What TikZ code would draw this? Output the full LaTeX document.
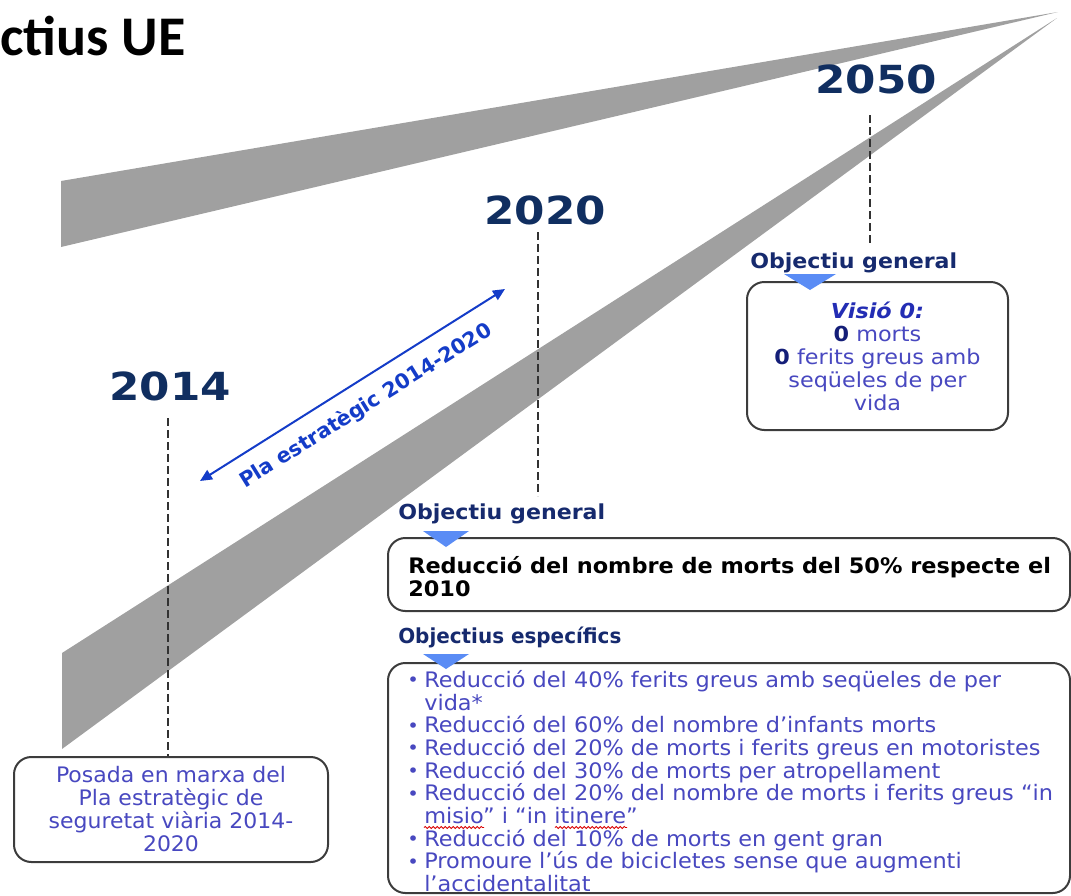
\documentclass[tikz,border=0pt]{standalone}
\usepackage{fontspec}
\setmainfont{DejaVu Sans}
\newfontfamily\titlefont{Carlito}
\newfontfamily\hdrfont{DejaVu Sans}[FakeStretch=1.07]
\newfontfamily\hdrfontB{DejaVu Sans}[FakeStretch=0.965]
\newfontfamily\yearfont{DejaVu Sans}[FakeStretch=1.13]
\newfontfamily\listfont{DejaVu Sans}[FakeStretch=1.05]
\newfontfamily\vfont{DejaVu Sans}[FakeStretch=1.08]
\newfontfamily\blfont{DejaVu Sans}[FakeStretch=1.03]
\usetikzlibrary{arrows.meta,decorations.pathmorphing}
\definecolor{yearblue}{RGB}{16,46,96}
\definecolor{hdrblue}{RGB}{22,42,110}
\definecolor{listblue}{RGB}{72,72,192}
\definecolor{zeroblue}{RGB}{20,30,120}
\definecolor{visioblue}{RGB}{35,45,180}
\definecolor{arrowblue}{RGB}{20,60,200}
\definecolor{triblue}{RGB}{90,140,245}
\definecolor{wedgegray}{RGB}{160,160,160}
\definecolor{boxgray}{RGB}{60,60,60}
\definecolor{dashgray}{RGB}{50,50,50}
\newcommand\bul{\makebox[12.75pt][l]{\raisebox{0.05ex}{\fontsize{14}{14}\selectfont •}}}
\newcommand\cont{\hspace*{12.75pt}}
\begin{document}
\begin{tikzpicture}[x=0.75pt,y=-0.75pt,
  wedge/.style={fill=wedgegray},
  year/.style={font=\yearfont\fontsize{29}{29}\selectfont\bfseries, text=yearblue, inner sep=0pt},
  hdr/.style={font=\hdrfont\fontsize{15.5}{18}\selectfont\bfseries, text=hdrblue, inner sep=0pt, anchor=west},
  vline/.style={draw=dashgray, line width=1.1pt, dash pattern=on 6pt off 3pt},
  tri/.style={fill=triblue},
  rbox/.style={draw=boxgray, line width=1.5pt, rounded corners=13pt, fill=white, inner sep=0pt},
  listtext/.style={font=\listfont\fontsize{16}{17}\selectfont, text=listblue, inner sep=0pt, align=left, anchor=west},
  arrowline/.style={draw=arrowblue, line width=1.5pt, {Triangle[length=9pt,width=8pt]}-{Triangle[length=9pt,width=8pt]}},
  arrowlabel/.style={font=\fontsize{15.5}{18}\selectfont\bfseries, text=arrowblue, inner sep=0pt},
  wavy/.style={draw=red!85!black, line width=0.6pt, decorate, decoration={snake, amplitude=0.8pt, segment length=3pt}}
]
\useasboundingbox (0,0) rectangle (1071,896);
\clip (0,0) rectangle (1071,896);

% title
\node[anchor=base west, inner sep=0pt, font=\titlefont\fontsize{42}{42}\selectfont\bfseries] (title) at (0,55) {ctius UE};

% wedges
\fill[wedge] (61,181) -- (1058,12) -- (61,247) -- cycle;
\fill[wedge] (62,653) -- (1057,18) -- (62,749) -- cycle;

% years
\node[year] (y2050) at (876,79) {2050};
\node[year] (y2020) at (545,210) {2020};
\node[year] (y2014) at (170,386) {2014};

% headers
\node[hdr] (og50) at (750,263) {Objectiu general};
\node[hdr] (og20) at (398,514) {Objectiu general};
\node[hdr, font=\hdrfontB\fontsize{15.5}{18}\selectfont\bfseries] (oesp) at (398,637) {Objectius específics};

% dashed lines
\coordinate (d50a) at (870,115);
\coordinate (d50b) at (870,243);
\coordinate (d20a) at (538,232);
\coordinate (d20b) at (538,496);
\coordinate (d14a) at (168,418);
\coordinate (d14b) at (168,757);
\draw[vline] (d50a) -- (d50b);
\draw[vline] (d20a) -- (d20b);
\draw[vline] (d14a) -- (d14b);

% boxes
\node[rbox, minimum width=195.75pt, minimum height=111pt, align=center,
      font=\vfont\fontsize{15.5}{17.25}\selectfont, text=listblue] (b50) at (877.5,356)
  {{\color{visioblue}\bfseries\itshape Visió 0:}\\
   {\color{zeroblue}\bfseries 0} morts\\
   {\color{zeroblue}\bfseries 0} ferits greus amb\\
   seqüeles de per\\
   vida};

\node[rbox, minimum width=511.5pt, minimum height=54.75pt] (b20) at (729,574.5) {};
\node[anchor=west, inner sep=0pt, align=left, font=\listfont\fontsize{16}{17.25}\selectfont\bfseries, text=black] (t20) at (408,576.5)
  {Reducció del nombre de morts del 50\% respecte el\\2010};

\node[rbox, minimum width=511.5pt, minimum height=172.5pt] (besp) at (729,778) {};
\node[listtext] (tesp) at (407,781)
  {\bul Reducció del 40\% ferits greus amb seqüeles de per\\
   \cont vida*\\
   \bul Reducció del 60\% del nombre d’infants morts\\
   \bul Reducció del 20\% de morts i ferits greus en motoristes\\
   \bul Reducció del 30\% de morts per atropellament\\
   \bul Reducció del 20\% del nombre de morts i ferits greus “in\\
   \cont misio” i “in itinere”\\
   \bul Reducció del 10\% de morts en gent gran\\
   \bul Promoure l’ús de bicicletes sense que augmenti\\
   \cont l’accidentalitat};

\node[rbox, minimum width=235.5pt, minimum height=78.75pt, align=center,
      font=\blfont\fontsize{16}{17.25}\selectfont, text=listblue] (bl) at (171,809.5)
  {Posada en marxa del\\Pla estratègic de\\seguretat viària 2014-\\2020};

% spell-check underlines
\coordinate (w1a) at (424,827.5);
\coordinate (w1b) at (484,827.5);
\coordinate (w2a) at (555,827.5);
\coordinate (w2b) at (627,827.5);
\draw[wavy] (w1a) -- (w1b);
\draw[wavy] (w2a) -- (w2b);

% triangles
\fill[tri] (784,274) -- (836,274) -- (810,290) -- cycle;
\fill[tri] (423,531) -- (469,531) -- (446,547) -- cycle;
\fill[tri] (423,654) -- (469,654) -- (446,669) -- cycle;

% arrow
\coordinate (pa) at (200,481);
\coordinate (pb) at (505,289);
\draw[arrowline] (pa) -- (pb);
\node[arrowlabel, rotate=31.9] (plab) at (366,406) {Pla estratègic 2014-2020};
\end{tikzpicture}
\end{document}
